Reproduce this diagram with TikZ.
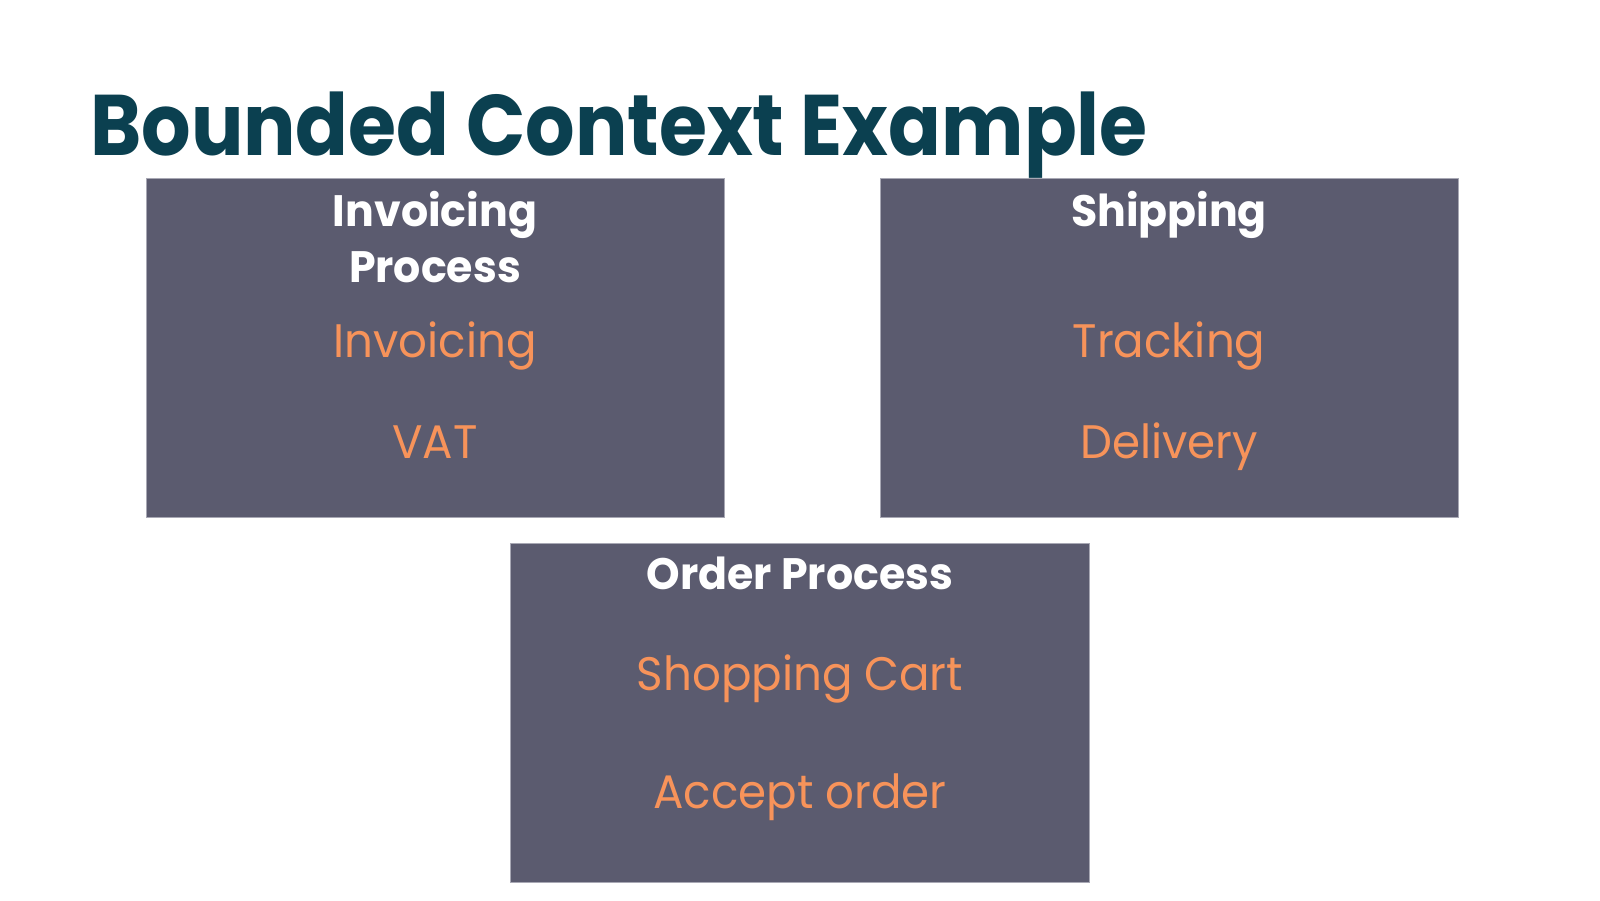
\documentclass[tikz,border=0pt]{standalone}
\usepackage{fontspec}
\setmainfont{Poppins}
\newfontfamily\titlefont[FakeStretch=0.905]{Poppins}
\newfontfamily\headfont[FakeStretch=0.97]{Poppins}
\newfontfamily\itemfont[FakeStretch=0.96]{Poppins}
\definecolor{titleblue}{HTML}{0B4050}
\definecolor{boxfill}{HTML}{5B5B6F}
\definecolor{boxline}{HTML}{A8A8B4}
\definecolor{itemorange}{HTML}{F7935A}
\begin{document}
\begin{tikzpicture}[x=1pt,y=-1pt,
  ctxbox/.style={draw=boxline,line width=1pt,fill=boxfill,inner sep=0pt,anchor=north west},
  ctxhead/.style={text=white,font=\headfont\fontsize{44}{54}\selectfont\bfseries,anchor=base,inner sep=0pt,align=center},
  ctxitem/.style={text=itemorange,font=\itemfont\fontsize{47}{56}\selectfont,anchor=base,inner sep=0pt}]
\useasboundingbox (0,0) rectangle (1600,900);
\node[anchor=base west,inner sep=0pt,text=titleblue,font=\titlefont\fontsize{86}{100}\selectfont\bfseries] (title) at (90,155) {Bounded Context Example};
\node[ctxbox,minimum width=578pt,minimum height=339pt] (inv) at (146,178) {};
\node[ctxbox,minimum width=578pt,minimum height=339pt] (ship) at (880,178) {};
\node[ctxbox,minimum width=579pt,minimum height=339pt] (ord) at (510,543) {};
\node[ctxhead] (invh1) at (435,226) {Invoicing};
\node[ctxhead] (invh2) at (435,282) {Process};
\node[ctxitem] (inv1) at (435,357) {Invoicing};
\node[ctxitem] (inv2) at (435,458) {VAT};
\node[ctxhead] (shiph) at (1169,226) {Shipping};
\node[ctxitem] (ship1) at (1169,357) {Tracking};
\node[ctxitem] (ship2) at (1169,458) {Delivery};
\node[ctxhead] (ordh) at (800,589) {Order Process};
\node[ctxitem] (ord1) at (800,690) {Shopping Cart};
\node[ctxitem] (ord2) at (800,808) {Accept order};
\end{tikzpicture}
\end{document}
